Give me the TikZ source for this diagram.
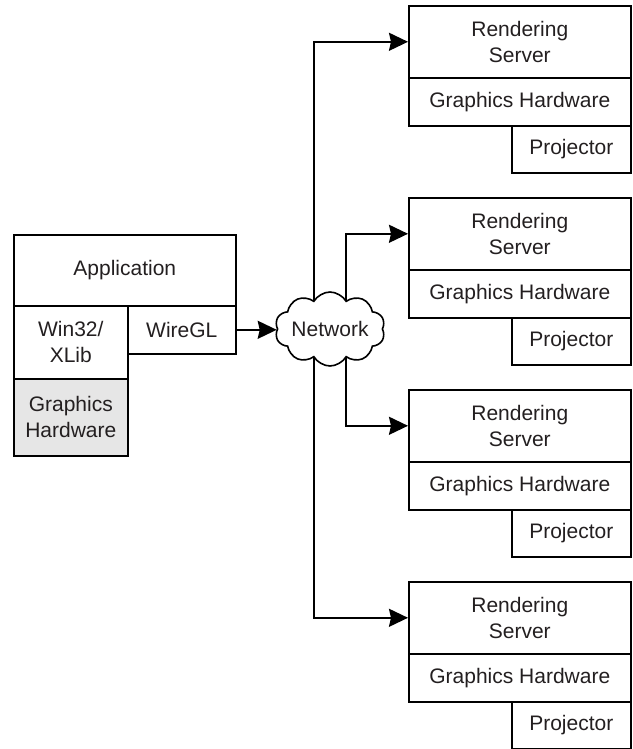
\documentclass[tikz,border=0pt]{standalone}
\usepackage{fontspec}
\setmainfont{Liberation Sans}
\usetikzlibrary{shapes.symbols,arrows.meta,backgrounds}
\definecolor{txt}{HTML}{231F20}
\definecolor{hwgray}{HTML}{E6E6E6}
\tikzset{
  box/.style={draw=black, line width=1.6pt, rectangle, anchor=north west, inner sep=0pt,
    align=center, font=\fontsize{21}{26}\selectfont, text=txt},
  conn/.style={line width=2pt, -{Stealth[length=19pt,width=18pt,inset=2pt]}},
  netcloud/.style={cloud, cloud puffs=10, cloud puff arc=120, cloud ignores aspect,
    draw=black, line width=1.6pt, fill=white, inner sep=0pt,
    minimum width=110pt, minimum height=74pt, font=\fontsize{21}{26}\selectfont, text=txt}
}
\begin{document}
\begin{tikzpicture}[x=1pt,y=-1pt]
\useasboundingbox (0,0) rectangle (632,749);
% left block
\node[box, minimum width=222pt, minimum height=71pt] (app) at (13,234) {Application};
\node[box, minimum width=114pt, minimum height=73pt] (win) at (13,305) {Win32/\\XLib};
\node[box, minimum width=108pt, minimum height=48pt] (wgl) at (127,305) {WireGL};
\node[box, fill=hwgray, minimum width=114pt, minimum height=77pt] (ghw) at (13,378) {Graphics\\Hardware};
% network
\node[netcloud] (net) at (330,329) {Network};
% servers
\foreach \i/\t in {1/5,2/197,3/389,4/581}{
  \node[box, minimum width=222pt, minimum height=72pt] (rs\i) at (408,\t) {Rendering\\Server};
  \node[box, minimum width=222pt, minimum height=48pt] (gh\i) at (408,\t+72) {Graphics Hardware};
  \node[box, minimum width=119pt, minimum height=47pt] (pj\i) at (511,\t+120) {Projector};
}
\draw[conn] (wgl.east) -- (wgl.east -| net.west);
\begin{scope}[on background layer]
\coordinate (nl) at ([xshift=-16pt]net.center);
\coordinate (nr) at ([xshift=16pt]net.center);
\draw[conn] (nl) |- (rs1.west);
\draw[conn] (nr) |- (rs2.west);
\draw[conn] (nr) |- (rs3.west);
\draw[conn] (nl) |- (rs4.west);
\end{scope}
\end{tikzpicture}
\end{document}
